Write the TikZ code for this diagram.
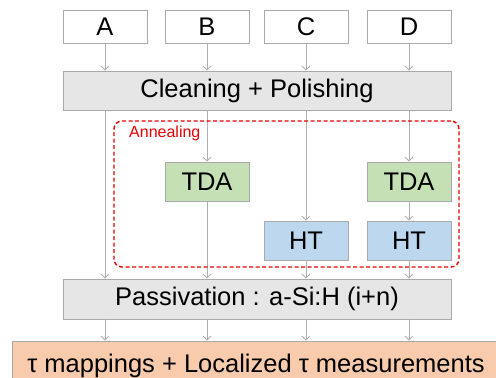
\documentclass[tikz,border=0pt]{standalone}
\usepackage{fontspec}
\setmainfont{Liberation Sans}
\usetikzlibrary{arrows.meta}
\definecolor{boxline}{RGB}{170,170,170}
\definecolor{arrowgray}{RGB}{175,175,175}
\definecolor{procgray}{RGB}{230,230,230}
\definecolor{tdagreen}{RGB}{197,224,180}
\definecolor{htblue}{RGB}{189,215,238}
\definecolor{measorange}{RGB}{248,203,173}
\definecolor{annealred}{RGB}{230,0,0}
\begin{document}
\begin{tikzpicture}[x=1pt,y=-1pt,
  box/.style={draw=boxline, line width=0.8pt, inner sep=0pt, minimum width=84pt, minimum height=39pt, font=\fontsize{25.5}{25.5}\selectfont},
  letterbox/.style={box, fill=white, minimum height=33pt},
  procbox/.style={box, fill=procgray, minimum width=388pt},
  tdabox/.style={box, fill=tdagreen},
  htbox/.style={box, fill=htblue},
  conn/.style={draw=arrowgray, line width=0.8pt, -{Straight Barb[length=4pt,width=8pt]}}
]
\useasboundingbox (0,0) rectangle (496,378);
\clip (0,0) rectangle (496,378);
\fill[white] (0,0) rectangle (496,378);

\node[letterbox] (A) at (105,26.5) {A};
\node[letterbox] (B) at (207,26.5) {B};
\node[letterbox] (C) at (306,26.5) {C};
\node[letterbox] (D) at (409,26.5) {D};

\node[procbox] (clean) at (257,90.5) {Cleaning + Polishing};

\node[tdabox] (tdaB) at (207,181.5) {TDA};
\node[tdabox] (tdaD) at (409,181.5) {TDA};
\node[htbox] (htC) at (306,240.5) {HT};
\node[htbox] (htD) at (409,240.5) {HT};

\node[procbox, minimum height=40pt] (pass) at (257,299) {Passivation : a-Si:H (i+n)};

\node[box, fill=measorange, minimum width=488pt, minimum height=38pt, text depth=0pt] (meas) at (256,360) {\raisebox{-6pt}{τ mappings + Localized τ measurements}};

% connectors
\draw[conn] (A.south) -- (A.south |- clean.north);
\draw[conn] (B.south) -- (B.south |- clean.north);
\draw[conn] (C.south) -- (C.south |- clean.north);
\draw[conn] (D.south) -- (D.south |- clean.north);

\draw[conn] (clean.south -| A) -- (pass.north -| A);
\draw[conn] (clean.south -| tdaB) -- (tdaB.north);
\draw[conn] (tdaB.south) -- (pass.north -| tdaB);
\draw[conn] (clean.south -| htC) -- (htC.north);
\draw[conn] (htC.south) -- (pass.north -| htC);
\draw[conn] (clean.south -| tdaD) -- (tdaD.north);
\draw[conn] (tdaD.south) -- (htD.north);
\draw[conn] (htD.south) -- (pass.north -| htD);

\draw[conn] (pass.south -| A) -- (meas.north -| A);
\draw[conn] (pass.south -| B) -- (meas.north -| B);
\draw[conn] (pass.south -| C) -- (meas.north -| C);
\draw[conn] (pass.south -| D) -- (meas.north -| D);

% annealing region
\node[draw=annealred, line width=1.4pt, dash pattern=on 4pt off 2.5pt, rounded corners=8pt, minimum width=345pt, minimum height=146pt, inner sep=0pt] (anneal) at (286.5,194) {};
\node[anchor=west, text=annealred, inner sep=0pt, font=\fontsize{16}{16}\selectfont] (annlabel) at (129,133) {Annealing};
\end{tikzpicture}
\end{document}
